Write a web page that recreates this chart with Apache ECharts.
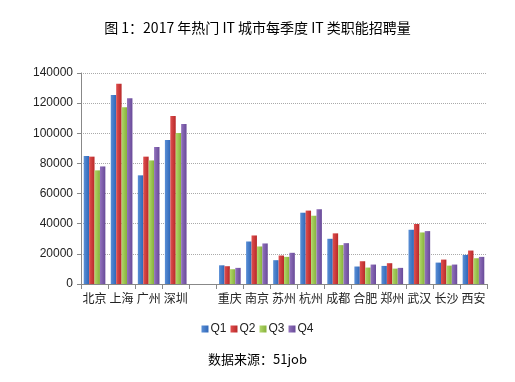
<!DOCTYPE html>
<html><head><meta charset="utf-8">
<script src="https://cdn.jsdelivr.net/npm/echarts@6/dist/echarts.min.js"></script>
<style>html,body{margin:0;padding:0;background:#fff}#c{width:515px;height:382px}</style>
</head><body><div id="c"></div>
<script>
const categories = ['北京','上海','广州','深圳','','重庆','南京','苏州','杭州','成都','合肥','郑州','武汉','长沙','西安'];
const seriesNames = ['Q1','Q2','Q3','Q4'];
const q1 = [85000,125400,72100,95500,null,12400,28200,15800,47300,30000,11600,12000,36000,14200,19300];
const q2 = [84500,132900,84500,111500,null,11800,32200,18900,48700,33600,15100,13800,39800,16200,22200];
const q3 = [75400,117200,82000,100200,null,9800,24900,18000,45300,25800,10900,10200,34200,12200,17100];
const q4 = [78000,123200,90900,106200,null,10700,26900,20700,49600,27100,12900,10700,35100,12900,18000];
const yTicks = {min:0, max:140000, interval:20000};
const titleText = '图 1：2017 年热门 IT 城市每季度 IT 类职能招聘量';
const sourceText = '数据来源：51job';

const colors = [['#5a8fd6','#2f67b8'],['#e05050','#b82828'],['#b2d86a','#86b13a'],['#9272bd','#684a98']];
function grad(c){return new echarts.graphic.LinearGradient(0,0,1,0,[{offset:0,color:c[0]},{offset:1,color:c[1]}]);}
const data = [q1,q2,q3,q4];
const chart = echarts.init(document.getElementById('c'));
chart.setOption({
  animation:false,
  textStyle:{fontFamily:'"Noto Sans CJK SC", "Liberation Sans", sans-serif'},
  title:[{text:titleText,left:'center',top:16,textStyle:{fontSize:14,fontWeight:'normal',color:'#000',fontFamily:'"Noto Sans CJK SC", sans-serif'}},
         {text:sourceText,left:'center',top:348,textStyle:{fontSize:13,fontWeight:'normal',color:'#000',fontFamily:'"Noto Sans CJK SC", sans-serif'}}],
  legend:{data:seriesNames,left:'center',top:318,itemWidth:7,itemHeight:7,itemGap:4,icon:'rect',
    textStyle:{fontSize:12,color:'#222',fontFamily:'"Liberation Sans", sans-serif',padding:[0,0,0,-3]}},
  grid:{left:81,right:28,top:73,bottom:98},
  xAxis:{type:'category',data:categories,
    axisLine:{lineStyle:{color:'#888'}},
    axisTick:{show:true,length:5,lineStyle:{color:'#888'}},
    axisLabel:{fontSize:12,color:'#222',margin:8,interval:0}},
  yAxis:{type:'value',min:yTicks.min,max:yTicks.max,interval:yTicks.interval,
    axisLine:{show:true,lineStyle:{color:'#888'}},
    axisTick:{show:true,length:4,lineStyle:{color:'#888'}},
    axisLabel:{fontSize:12,color:'#222',fontFamily:'"Liberation Sans", sans-serif',margin:8,formatter:v=>String(v)},
    splitLine:{lineStyle:{color:'#aaa',type:[1,1]}}},
  series:seriesNames.map((n,i)=>({name:n,type:'bar',data:data[i],barGap:'0%',barCategoryGap:'20%',
    itemStyle:{color:grad(colors[i])}}))
});
</script></body></html>
